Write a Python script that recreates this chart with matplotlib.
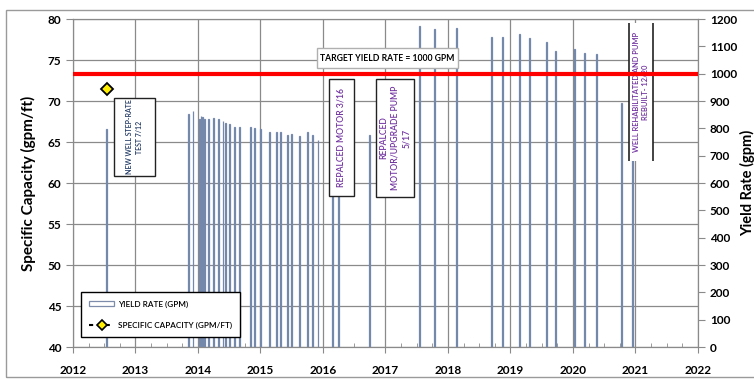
import matplotlib.pyplot as plt
from matplotlib.patches import Rectangle
from matplotlib.lines import Line2D
from matplotlib.patches import Patch
from matplotlib.ticker import MultipleLocator

plt.rcParams['font.family'] = ['Lato', 'DejaVu Sans']

# yield rate measurements (decimal year, gpm)
bar_years = [2012.54, 2013.85, 2013.92, 2014.03, 2014.05, 2014.07, 2014.10, 2014.17,
             2014.25, 2014.33, 2014.40, 2014.44, 2014.51, 2014.59, 2014.66, 2014.84,
             2014.91, 2015.00, 2015.15, 2015.26, 2015.32, 2015.43, 2015.50, 2015.62,
             2015.75, 2015.83, 2015.92, 2016.15, 2016.25, 2016.74, 2017.54, 2017.79,
             2018.14, 2018.70, 2018.87, 2019.14, 2019.31, 2019.58, 2019.72, 2020.03,
             2020.19, 2020.38, 2020.78, 2020.95]
yield_rate = [798, 852, 863, 833, 845, 840, 833, 834, 837, 834, 827, 821, 815, 806,
              806, 806, 801, 799, 788, 785, 788, 777, 779, 773, 785, 777, 757, 770,
              765, 776, 1174, 1162, 1166, 1133, 1135, 1145, 1129, 1117, 1084, 1089,
              1074, 1072, 892, 1150]

# specific capacity (step-rate test)
sc_years = [2012.54]
spec_cap = [71.5]

target_rate = 1000

fig = plt.figure(figsize=(7.54, 3.8), dpi=100)
ax = fig.add_axes([0.0968, 0.0868, 0.8289, 0.8632])
ax2 = ax.twinx()

# outer frame
fig.patches.append(Rectangle((0.008, 0.008), 1.2, 0.966, transform=fig.transFigure,
                             fill=False, edgecolor='#9a9a9a', lw=1))

# left axis
ax.set_xlim(2012, 2022)
ax.set_ylim(40, 80)
ax.yaxis.set_major_locator(MultipleLocator(5))
ax.xaxis.set_major_locator(MultipleLocator(1))
ax.xaxis.set_minor_locator(MultipleLocator(0.25))
ax.grid(True, which='major', color='#8a8a8a', lw=0.9)
ax.set_axisbelow(True)
ax.set_ylabel('Specific Capacity (gpm/ft)', fontsize=11, fontweight='bold', labelpad=8)
ax.plot(sc_years, spec_cap, ls=(0, (2, 2)), color='black', marker='D', ms=6.5,
        mfc='#ffee00', mec='black', mew=1.3)

# right axis
ax2.set_ylim(0, 1200)
ax2.yaxis.set_major_locator(MultipleLocator(100))
ax2.set_ylabel('Yield Rate (gpm)', fontsize=10.5, fontweight='bold', labelpad=2)
ax2.bar(bar_years, yield_rate, width=0.012, color='white', edgecolor='#7488ab', lw=0.9,
        zorder=2)
ax2.axhline(target_rate, color='#ff0000', lw=3, zorder=6)

for a in (ax, ax2):
    for s in a.spines.values():
        s.set_color('#8a8a8a')
ax.tick_params(axis='x', which='major', direction='out', length=4, color='#8a8a8a',
               labelsize=8.5, pad=9)
ax.tick_params(axis='x', which='minor', direction='in', length=3, color='#8a8a8a')
ax.tick_params(axis='y', direction='out', length=5, color='#8a8a8a', labelsize=8.5)
ax2.tick_params(axis='y', direction='out', length=5, color='#8a8a8a', labelsize=8.5)
for lab in ax.get_xticklabels() + ax.get_yticklabels() + ax2.get_yticklabels():
    lab.set_fontweight('bold')

# annotation boxes (in gpm units of the right axis)
def note_box(x0, x1, y0, y1, text, color, size, sides=False):
    if sides:
        ax2.add_patch(Rectangle((x0, y0), x1 - x0, y1 - y0, facecolor='white',
                                edgecolor='none', zorder=4))
        ax2.vlines([x0, x1], y0, y1, color='#222222', lw=1.2, zorder=4)
    else:
        ax2.add_patch(Rectangle((x0, y0), x1 - x0, y1 - y0, facecolor='white',
                                edgecolor='#222222', lw=1, zorder=4))
    ax2.text((x0 + x1) / 2, (y0 + y1) / 2, text, rotation=90, ha='center', va='center',
             multialignment='center', color=color, fontsize=size, zorder=5,
             linespacing=1.35, fontweight='semibold')

note_box(2012.656, 2013.312, 626, 911, 'NEW WELL STEP-RATE\nTEST 7/12', '#1f3864', 5.0)
note_box(2016.096, 2016.496, 552, 980, 'REPALCED MOTOR 3/16', '#7030a0', 6.2)
note_box(2016.848, 2017.456, 549, 980, 'REPALCED\nMOTOR/UPGRADE PUMP\n5/17', '#7030a0', 6.2)
note_box(2020.896, 2021.28, 680, 1185, 'WELL REHABILITATED AND PUMP\nREBUILT- 12/20',
         '#7030a0', 5.4, sides=True)

ax2.add_patch(Rectangle((2015.904, 1021), 2.256, 73, facecolor='white',
                        edgecolor='#b0b0b0', lw=1, zorder=4))
ax2.text(2017.03, 1057, 'TARGET YIELD RATE = 1000 GPM', ha='center', va='center',
         fontsize=6.2, fontweight='bold', color='black', zorder=5)

handles = [Patch(facecolor='white', edgecolor='#7d8cab', lw=0.9),
           Line2D([], [], ls=(0, (2, 2)), color='black', marker='D', ms=5,
                  mfc='#ffee00', mec='black', mew=1.2)]
leg = ax2.legend(handles, ['YIELD RATE (GPM)', 'SPECIFIC CAPACITY (GPM/FT)'],
                 loc='lower left', bbox_to_anchor=(0.0064, 0.018),
                 frameon=True, fancybox=False, edgecolor='black', framealpha=1,
                 handlelength=3.0, labelspacing=1.7, borderpad=1.0, handletextpad=0.5,
                 prop={'weight': 'semibold', 'size': 5.9})
leg.get_frame().set_linewidth(1)
leg.set_zorder(7)

fig.savefig('out.png', dpi=100)
